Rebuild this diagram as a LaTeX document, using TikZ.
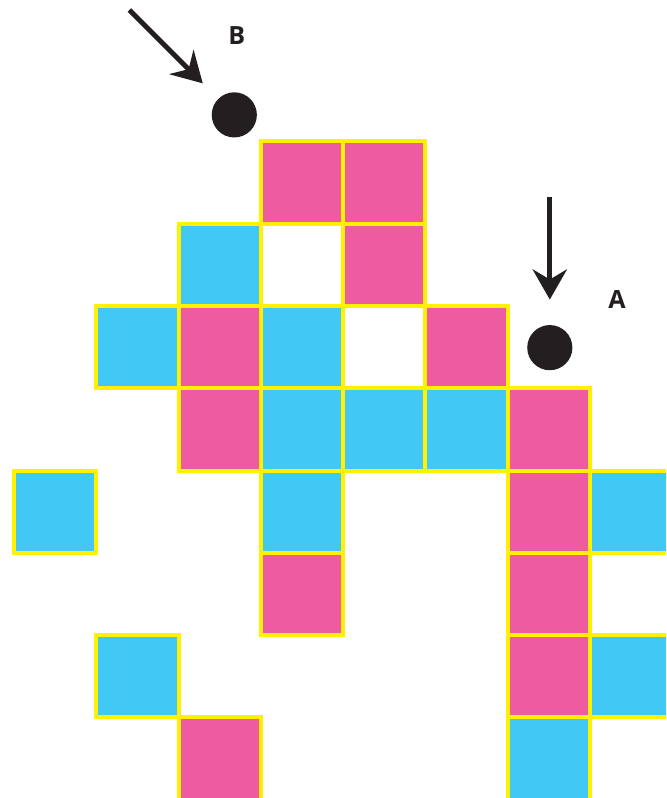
\documentclass[tikz,border=0pt]{standalone}
\usepackage{fontspec}
\setsansfont{Open Sans}
\usepackage{tikz}
\usetikzlibrary{arrows.meta}
\definecolor{tilepink}{HTML}{EE5BA0}
\definecolor{tileblue}{HTML}{41C8F4}
\definecolor{tileedge}{HTML}{FFF100}
\definecolor{inkblack}{HTML}{231F20}

\begin{document}
\begin{tikzpicture}[
        x=41pt, y=-41pt,
        tile/.style={rectangle, draw=tileedge, line width=2pt, minimum size=41pt, inner sep=0pt},
        pinktile/.style={tile, fill=tilepink},
        bluetile/.style={tile, fill=tileblue},
        dot/.style={circle, fill=inkblack, minimum size=22.5pt, inner sep=0pt},
        lbl/.style={font=\sffamily\bfseries\fontsize{12.5}{15}\selectfont, text=inkblack},
        arr/.style={-{Stealth[length=15pt, width=17pt, inset=5pt]}, line width=2.5pt, draw=inkblack},
    ]
        \useasboundingbox (-0.1707,-1.7195) rectangle (7.927,7.98);
        \clip (-0.1707,-1.7195) rectangle (7.927,7.98);

        % Row 0
        \node[pinktile] (t03) at (3.5,0.5) {};
        \node[pinktile] (t04) at (4.5,0.5) {};

        % Row 1
        \node[bluetile] (t12) at (2.5,1.5) {};
        \node[pinktile] (t14) at (4.5,1.5) {};

        % Row 2
        \node[bluetile] (t21) at (1.5,2.5) {};
        \node[pinktile] (t22) at (2.5,2.5) {};
        \node[bluetile] (t23) at (3.5,2.5) {};
        \node[pinktile] (t25) at (5.5,2.5) {};

        % Row 3
        \node[pinktile] (t32) at (2.5,3.5) {};
        \node[bluetile] (t33) at (3.5,3.5) {};
        \node[bluetile] (t34) at (4.5,3.5) {};
        \node[bluetile] (t35) at (5.5,3.5) {};
        \node[pinktile] (t36) at (6.5,3.5) {};

        % Row 4
        \node[bluetile] (t40) at (0.5,4.5) {};
        \node[bluetile] (t43) at (3.5,4.5) {};
        \node[pinktile] (t46) at (6.5,4.5) {};
        \node[bluetile] (t47) at (7.5,4.5) {};

        % Row 5
        \node[pinktile] (t53) at (3.5,5.5) {};
        \node[pinktile] (t56) at (6.5,5.5) {};

        % Row 6
        \node[bluetile] (t61) at (1.5,6.5) {};
        \node[pinktile] (t66) at (6.5,6.5) {};
        \node[bluetile] (t67) at (7.5,6.5) {};

        % Row 7
        \node[pinktile] (t72) at (2.5,7.5) {};
        \node[bluetile] (t76) at (6.5,7.5) {};

        % Markers
        \node[dot] (dotB) at (2.677,-0.323) {};
        \node[dot] (dotA) at (6.512,2.506) {};
        \node[lbl] (labB) at (2.707,-1.293) {B};
        \node[lbl] (labA) at (7.329,1.915) {A};

        % Arrows
        \coordinate (tailB) at (1.402,-1.598);
        \coordinate (tailA) at (6.512,0.671);
        \draw[arr, shorten >=10.75pt] (tailB) -- (dotB);
        \draw[arr, shorten >=12.5pt] (tailA) -- (dotA);
    \end{tikzpicture}
\end{document}
